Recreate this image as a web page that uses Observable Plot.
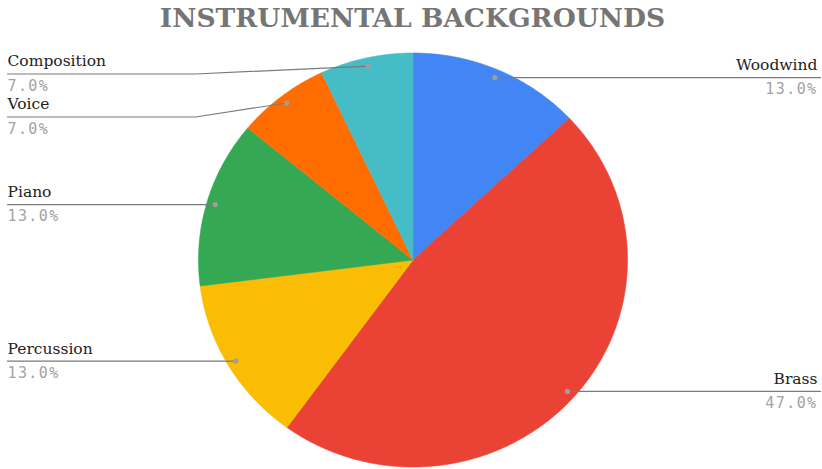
<!DOCTYPE html>
<html><head><meta charset="utf-8">
<script src="https://cdn.jsdelivr.net/npm/d3@7"></script>
<script src="https://cdn.jsdelivr.net/npm/@observablehq/plot@0.6"></script>
<style>body{margin:0;background:#fff} svg{display:block}
g[font-family="DejaVu Sans Mono"] text{letter-spacing:1.4px}</style>
</head><body><div id="chart"></div>
<script>
const title = "INSTRUMENTAL BACKGROUNDS";
const categories = ["Woodwind", "Brass", "Percussion", "Piano", "Voice", "Composition"];
const values = [13, 47, 13, 13, 7, 7];
const colors = ["#4285F4", "#EA4335", "#FBBC04", "#34A853", "#FF6D01", "#46BDC6"];

// layout (pixels)
const W = 822, H = 469, cx = 412.5, cy = 259.5, rx = 214.5, ry = 207;
const px2x = p => (p - cx) / rx;
const px2y = p => (cy - p) / ry;

const pie = d3.pie().sort(null).value(d => d.value)(categories.map((name, i) => ({name, value: values[i]})));
const total = d3.sum(values);

// slice polygons built from pie angles
const poly = [];
pie.forEach(p => {
  const name = p.data.name;
  poly.push({name, x: 0, y: 0});
  const n = Math.max(2, Math.ceil((p.endAngle - p.startAngle) / (Math.PI / 360)));
  for (let k = 0; k <= n; k++) {
    const a = p.startAngle + (p.endAngle - p.startAngle) * k / n;
    poly.push({name, x: Math.sin(a), y: Math.cos(a)});
  }
  poly.push({name, x: 0, y: 0});
});

// labels
const labels = pie.map(p => {
  const mid = (p.startAngle + p.endAngle) / 2;
  const x = 0.96 * Math.sin(mid), y = 0.96 * Math.cos(mid);
  return {name: p.data.name, pct: (p.data.value / total * 100).toFixed(1) + "%",
          side: mid < Math.PI ? "right" : "left", x, y, py: cy - y * ry};
});
for (const side of ["left", "right"]) {
  let prev = -Infinity;
  labels.filter(d => d.side === side).sort((a, b) => a.py - b.py).forEach(d => {
    d.ly = Math.max(d.py, prev + 43, 73.5);
    prev = d.ly;
  });
}
const leaders = [];
labels.forEach(d => {
  const elbowX = d.side === "left" ? px2x(195) : px2x(630);
  const endX = d.side === "left" ? px2x(7) : px2x(820);
  leaders.push({name: d.name, x: d.x, y: d.y});
  leaders.push({name: d.name, x: elbowX, y: px2y(d.ly)});
  leaders.push({name: d.name, x: endX, y: px2y(d.ly)});
  d.tx = d.side === "left" ? px2x(7) : px2x(817);
  d.ty = px2y(d.ly);
});
const leftLabels = labels.filter(d => d.side === "left");
const rightLabels = labels.filter(d => d.side === "right");

const nameStyle = {fontFamily: "DejaVu Serif", fontSize: 15.5, fill: "#222", lineAnchor: "middle", dy: -12.5};
const pctStyle = {fontFamily: "DejaVu Sans Mono", fontSize: 15, fill: "#a3a3a3", lineAnchor: "middle", dy: 12};

const chart = Plot.plot({
  width: W, height: H,
  marginTop: 0, marginBottom: 0, marginLeft: 0, marginRight: 0,
  x: {domain: [px2x(0), px2x(W)], range: [0, W], axis: null},
  y: {domain: [px2y(0), px2y(H)], range: [0, H], axis: null},
  color: {domain: categories, range: colors},
  style: {background: "#fff"},
  marks: [
    Plot.line(poly, {x: "x", y: "y", z: "name", fill: "name", stroke: "name", strokeWidth: 0.6, curve: "linear"}),
    Plot.line(leaders, {x: "x", y: "y", z: "name", stroke: "#7a7a7a", strokeWidth: 1.2, curve: "linear"}),
    Plot.dot(labels, {x: "x", y: "y", r: 2.6, fill: "#9e9e9e", stroke: "none"}),
    Plot.text(leftLabels, {x: "tx", y: "ty", text: "name", textAnchor: "start", ...nameStyle}),
    Plot.text(rightLabels, {x: "tx", y: "ty", text: "name", textAnchor: "end", ...nameStyle}),
    Plot.text(leftLabels, {x: "tx", y: "ty", text: "pct", textAnchor: "start", ...pctStyle}),
    Plot.text(rightLabels, {x: "tx", y: "ty", text: "pct", textAnchor: "end", ...pctStyle}),
    Plot.text([title], {frameAnchor: "top", dx: 1, dy: 18, lineAnchor: "middle",
      fontFamily: "DejaVu Serif", fontWeight: "bold", fontSize: 26.5, fill: "#757575"})
  ]
});
document.getElementById("chart").append(chart);
</script>
</body></html>
